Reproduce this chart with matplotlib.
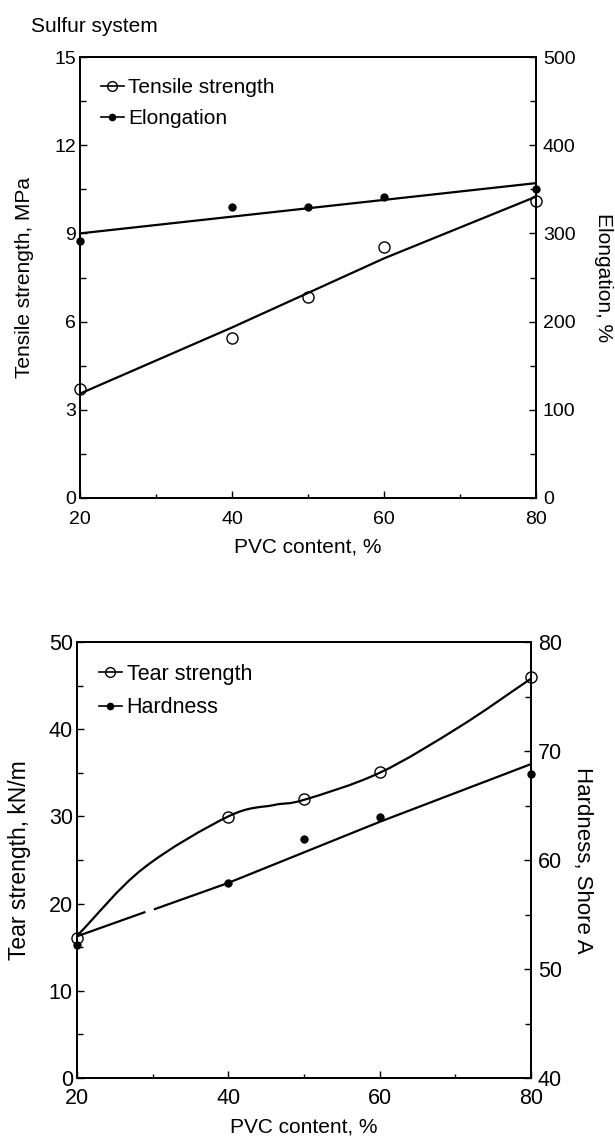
import matplotlib
matplotlib.use('Agg')
import matplotlib.pyplot as plt
from matplotlib.lines import Line2D
from matplotlib.path import Path
from matplotlib.patches import PathPatch
from matplotlib.ticker import MultipleLocator
import numpy as np

plt.rcParams['font.family'] = ['Liberation Sans', 'DejaVu Sans']

# Top panel: tensile strength (left) / elongation (right)
pvc = [20, 40, 50, 60, 80]
tensile = [3.7, 5.45, 6.85, 8.55, 10.1]
tensile_fit_x = [20, 40, 60, 80]
tensile_fit = [3.55, 5.8, 8.15, 10.25]
elong = [291, 330, 330, 341, 350]
elong_fit_x = [20, 80]
elong_fit = [300, 357]

# Bottom panel: tear strength (left) / hardness (right)
tear = [16.1, 29.9, 32.0, 35.1, 46.0]
tear_curve_x = [20, 28.7, 40, 46, 50, 60, 70.6, 80]
tear_curve = [16.3, 24.0, 30.0, 31.3, 31.9, 35.0, 40.3, 45.8]
hardness = [52.2, 57.9, 61.9, 63.9, 67.9]
hard_line_x = [20, 28.9, np.nan, 30.3, 40, 60, 80]
hard_line = [53.0, 55.2, np.nan, 55.5, 57.9, 63.5, 68.8]

fig = plt.figure(figsize=(6.15, 11.36), dpi=100)
lw = 1.6


def smooth_path(x, y):
    # Catmull-Rom through the read points, drawn as bezier segments
    pts = np.column_stack([x, y])
    verts = [pts[0]]
    codes = [Path.MOVETO]
    n = len(pts)
    for i in range(n - 1):
        p1 = pts[i]
        p2 = pts[i + 1]
        p0 = pts[i - 1] if i > 0 else 2 * p1 - p2
        p3 = pts[i + 2] if i + 2 < n else 2 * p2 - p1
        verts += [p1 + (p2 - p0) / 6, p2 - (p3 - p1) / 6, p2]
        codes += [Path.CURVE4] * 3
    return Path(verts, codes)


def style(ax, ax2, tsize, xpad):
    for a in (ax, ax2):
        for s in a.spines.values():
            s.set_linewidth(1.3)
    ax.tick_params(axis='both', which='both', direction='in', top=False,
        right=False, labelsize=tsize)
    ax.tick_params(axis='y', which='major', length=5, width=1, pad=3)
    ax.tick_params(axis='y', which='minor', length=4, width=1)
    ax.tick_params(axis='x', which='major', length=5, width=1, pad=xpad)
    ax.tick_params(axis='x', which='minor', length=3, width=1)
    ax2.tick_params(axis='y', which='both', direction='in', labelsize=tsize,
        pad=5)
    ax2.tick_params(axis='y', which='major', length=5, width=1)
    ax2.tick_params(axis='y', which='minor', length=4, width=1)
    ax.xaxis.set_major_locator(MultipleLocator(20))
    ax.xaxis.set_minor_locator(MultipleLocator(10))
    ax.set_xlim(20, 80)


def legend(ax, labels, size):
    h = [Line2D([], [], color='k', lw=1.2, marker='o', mfc='none', mec='k',
            ms=7, mew=1),
        Line2D([], [], color='k', lw=1.2, marker='o', mfc='k', mec='k',
            ms=4.5)]
    ax.legend(h, labels, loc='upper left', frameon=False, fontsize=size,
        handlelength=1.1, handletextpad=0.2, borderaxespad=0.6,
        labelspacing=0.6)


# ---- top
ax = fig.add_axes([80/615, 1-498/1136, 456/615, 441/1136])
ax2 = ax.twinx()
ax.plot(tensile_fit_x, tensile_fit, 'k-', lw=lw)
ax.plot(pvc, tensile, 'o', mfc='none', mec='k', ms=8, mew=1, clip_on=False)
ax2.plot(elong_fit_x, elong_fit, 'k-', lw=lw)
ax2.plot(pvc, elong, 'o', color='k', ms=5, clip_on=False)
ax.set_ylim(0, 15)
ax2.set_ylim(0, 500)
ax.yaxis.set_major_locator(MultipleLocator(3))
ax.yaxis.set_minor_locator(MultipleLocator(1.5))
ax2.yaxis.set_major_locator(MultipleLocator(100))
ax2.yaxis.set_minor_locator(MultipleLocator(50))
style(ax, ax2, 14, 9)
ax.set_xlabel('PVC content, %', fontsize=15)
ax.set_ylabel('Tensile strength, MPa', fontsize=15)
ax2.set_ylabel('Elongation, %', fontsize=15, rotation=270)
ax.xaxis.set_label_coords(0.5, -0.09)
ax.yaxis.set_label_coords(-0.101, 0.5)
ax2.yaxis.set_label_coords(1.168, 0.5)
legend(ax, ['Tensile strength', 'Elongation'], 15)
fig.text(31/615, 1-27/1136, 'Sulfur system', fontsize=15, ha='left',
    va='center')

# ---- bottom
bx = fig.add_axes([77/615, 1-1078/1136, 454/615, 436/1136])
bx2 = bx.twinx()
bx.add_patch(PathPatch(smooth_path(tear_curve_x, tear_curve), fill=False,
    lw=lw, ec='k'))
bx.plot(pvc, tear, 'o', mfc='none', mec='k', ms=8, mew=1, clip_on=False)
bx2.plot(hard_line_x, hard_line, 'k-', lw=lw)
bx2.plot(pvc, hardness, 'o', color='k', ms=5, clip_on=False)
bx.set_ylim(0, 50)
bx2.set_ylim(40, 80)
bx.yaxis.set_major_locator(MultipleLocator(10))
bx.yaxis.set_minor_locator(MultipleLocator(5))
bx2.yaxis.set_major_locator(MultipleLocator(10))
bx2.yaxis.set_minor_locator(MultipleLocator(5))
style(bx, bx2, 15.5, 7)
bx.set_xlabel('PVC content, %', fontsize=15)
bx.set_ylabel('Tear strength, kN/m', fontsize=16.5)
bx2.set_ylabel('Hardness, Shore A', fontsize=16, rotation=270)
bx.xaxis.set_label_coords(0.5, -0.09)
bx.yaxis.set_label_coords(-0.101, 0.5)
bx2.yaxis.set_label_coords(1.136, 0.5)
legend(bx, ['Tear strength', 'Hardness'], 15.5)

fig.savefig('out.png', dpi=100)
